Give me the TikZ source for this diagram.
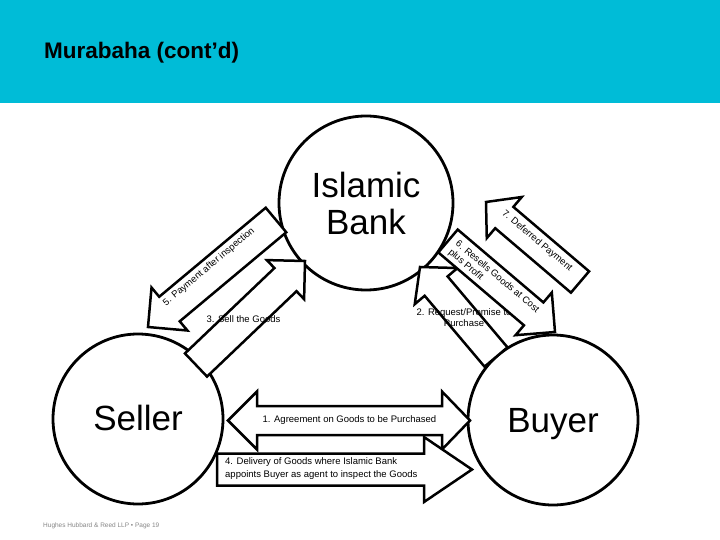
\documentclass[tikz,border=0pt]{standalone}
\usepackage{fontspec}
\setmainfont{Liberation Sans}
\usetikzlibrary{calc}
\definecolor{headcyan}{RGB}{0,188,215}
\definecolor{footgray}{RGB}{135,135,135}
\newcommand{\blockarrow}[5]{%
  \coordinate (#2b) at ($(#2)!#5!(#1)$);
  \draw[arrowbox] ($(#1)!#3!90:(#2)$) -- ($(#2b)!#3!90:(#2)$) -- ($(#2b)!#4!90:(#2)$) -- (#2)
    -- ($(#2b)!#4!-90:(#2)$) -- ($(#2b)!#3!-90:(#2)$) -- ($(#1)!#3!-90:(#2)$) -- cycle;
}
\begin{document}
\begin{tikzpicture}[x=1pt,y=-1pt,
  arrowbox/.style={draw=black, line width=2.5pt, fill=white, line join=miter},
  bigcircle/.style={circle, draw=black, line width=2.8pt, fill=white, inner sep=0pt},
  bigtext/.style={font=\fontsize{35}{38}\selectfont, inner sep=0pt},
  lbl/.style={font=\fontsize{9.5}{11}\selectfont, inner sep=0pt},
]
\useasboundingbox (0,0) rectangle (720,540);
\fill[white] (0,0) rectangle (720,540);
% header
\fill[headcyan] (0,0) rectangle (720,103);
\node[font=\bfseries\fontsize{22.5}{25}\selectfont, anchor=base west, inner sep=0pt] (title) at (44,59) {Murabaha (cont’d)};
% circles
\node[bigcircle, minimum size=174pt] (bank) at (366,203) {};
\node[bigcircle, minimum size=170pt] (seller) at (138,419) {};
\node[bigcircle, minimum size=170pt] (buyer) at (553,420) {};
\node[bigtext, anchor=base] (banktxt1) at (366,197) {Islamic};
\node[bigtext, anchor=base] (banktxt2) at (366,235) {Bank};
\node[bigtext, anchor=base] (sellertxt) at (138,430) {Seller};
\node[bigtext, anchor=base] (buyertxt) at (553,432) {Buyer};
% arrow 1 (double)
\coordinate (aonel) at (228,420.5);
\coordinate (aoner) at (470,420.5);
\coordinate (aonebl) at ($(aonel)!29pt!(aoner)$);
\coordinate (aonebr) at ($(aoner)!28pt!(aonel)$);
\draw[arrowbox] (aonel) -- ($(aonebl)!29pt!90:(aoner)$) -- ($(aonebl)!14.5pt!90:(aoner)$)
  -- ($(aonebr)!14.5pt!-90:(aonel)$) -- ($(aonebr)!29pt!-90:(aonel)$) -- (aoner)
  -- ($(aonebr)!29pt!90:(aonel)$) -- ($(aonebr)!14.5pt!90:(aonel)$)
  -- ($(aonebl)!14.5pt!-90:(aoner)$) -- ($(aonebl)!29pt!-90:(aoner)$) -- cycle;
\node[lbl] (aonetxt) at (349.5,420.5) {1. Agreement on Goods to be Purchased};
% arrow 4
\coordinate (afourt) at (217,469.5);
\coordinate (afourp) at (472,469.5);
\blockarrow{afourt}{afourp}{16pt}{32.5pt}{48pt}
\node[lbl, anchor=west, align=left, font=\fontsize{9.5}{13}\selectfont] (afourtxt) at (225,468.5) {4. Delivery of Goods where Islamic Bank\\appoints Buyer as agent to inspect the Goods};
% arrow 3
\coordinate (athreet) at (196,365);
\coordinate (athreep) at (305,261);
\blockarrow{athreet}{athreep}{16pt}{27pt}{27pt}
\node[lbl] (athreetxt) at (243.5,319.5) {3. Sell the Goods};
% arrow 5
\coordinate (afivet) at (276,220);
\coordinate (afivep) at (148,327);
\blockarrow{afivet}{afivep}{16pt}{28pt}{28pt}
\node[lbl, rotate=40] (afivetxt) at (209,267) {5. Payment after inspection};
% arrow 2
\coordinate (atwot) at (496,357);
\coordinate (atwop) at (420,267);
\blockarrow{atwot}{atwop}{15pt}{28pt}{25pt}
\node[lbl, align=center] (atwotxt) at (464,317.5) {2. Request/Promise to\\Purchase};
% arrow 6
\coordinate (asixt) at (448,241);
\coordinate (asixp) at (555,332);
\blockarrow{asixt}{asixp}{15pt}{28pt}{28pt}
\node[lbl, rotate=-40, anchor=west, align=left] (asixtxt) at (453,247) {6. Resells Goods at Cost\\plus Profit};
% arrow 7
\coordinate (asevent) at (580,282);
\coordinate (asevenp) at (486,202);
\blockarrow{asevent}{asevenp}{14pt}{27pt}{24pt}
\node[lbl, rotate=-40] (aseventxt) at (537,241) {7. Deferred Payment};
% footer
\node[font=\fontsize{6.5}{8}\selectfont, text=footgray, anchor=base west, inner sep=0pt] (footer) at (43,527) {Hughes Hubbard \& Reed LLP • Page 19};
\end{tikzpicture}
\end{document}
